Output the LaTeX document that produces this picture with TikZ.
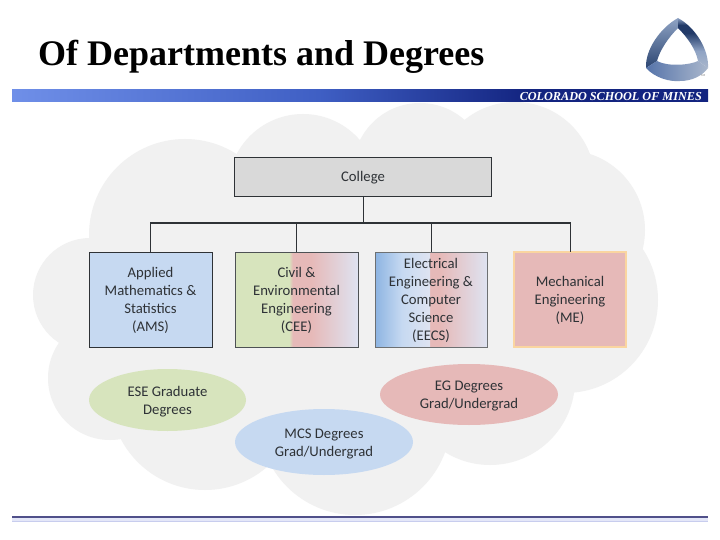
\documentclass[tikz,border=0pt]{standalone}
\usepackage{fontspec}
\setmainfont{Liberation Serif}
\newfontfamily\bodyfont{Carlito}
\definecolor{cloudc}{HTML}{F1F1F1}
\definecolor{bluef}{HTML}{C6D9F1}
\definecolor{greenf}{HTML}{D7E4BD}
\definecolor{pinkf}{HTML}{E6B9B8}
\definecolor{greyf}{HTML}{D9D9D9}
\definecolor{inkc}{HTML}{2E3236}
\definecolor{fadef}{HTML}{DEE3F1}
\definecolor{deepb}{HTML}{8DB4E2}
\definecolor{barA}{HTML}{6F8FE8}
\definecolor{barB}{HTML}{3F5FC4}
\definecolor{barC}{HTML}{132480}
\definecolor{logoA}{HTML}{8FA3C4}
\definecolor{logoB}{HTML}{2C4672}
\definecolor{logoC}{HTML}{223A68}
\definecolor{logoD}{HTML}{AAB7CC}
\definecolor{logoE}{HTML}{5674AA}
\definecolor{meedge}{HTML}{FAD5A0}
\definecolor{footA}{HTML}{E4E7F8}
\definecolor{footB}{HTML}{50508A}
\definecolor{footC}{HTML}{C8CDEE}
\pgfdeclarehorizontalshading{ceeshade}{100bp}{color(0bp)=(greenf); color(47bp)=(greenf); color(48.5bp)=(pinkf); color(56bp)=(pinkf); color(75bp)=(fadef); color(100bp)=(fadef)}
\pgfdeclarehorizontalshading{eecsshade}{100bp}{color(0bp)=(deepb); color(25bp)=(deepb); color(37bp)=(bluef); color(49.2bp)=(fadef); color(49.6bp)=(pinkf); color(54bp)=(pinkf); color(75bp)=(fadef); color(100bp)=(fadef)}
\pgfdeclarehorizontalshading{barshade}{100bp}{color(0bp)=(barA); color(25bp)=(barA); color(47bp)=(barB); color(62bp)=(barC); color(75bp)=(barC); color(100bp)=(barC)}
\pgfdeclareverticalshading{logoshade}{100bp}{color(0bp)=(logoD); color(25bp)=(logoD); color(42bp)=(logoA); color(60bp)=(logoC); color(68bp)=(logoC); color(75bp)=(logoA); color(100bp)=(logoA)}
\newcommand{\firstl}{\rule{0pt}{14pt}}
\newcommand{\lastl}{\rule[-4pt]{0pt}{4pt}}
\usetikzlibrary{shapes.geometric}
\tikzset{
  x=1pt,y=-1pt,
  cloudlobe/.style={fill=cloudc,draw=none},
  orgbox/.style={rectangle,draw=inkc,line width=0.8pt,inner sep=0pt,outer sep=0pt,align=center,font=\bodyfont\fontsize{14.7}{18}\selectfont,text=inkc},
  degree/.style={ellipse,draw=none,inner sep=0pt,outer sep=0pt,align=center,font=\bodyfont\fontsize{14.7}{18}\selectfont,text=inkc},
  wire/.style={draw=inkc,line width=1pt},
}
\begin{document}
\begin{tikzpicture}
\useasboundingbox (0,0) rectangle (720,540);
\fill[white] (0,0) rectangle (720,540);
% cloud
\foreach \cx/\cy/\rr in {185/235/96,303/189/75,420/170/67,515/182/80,565/230/80,565/300/93,490/380/85,355/419/96,205/395/95,110/378/62,90/295/57,350/300/150,250/300/120,450/280/130}
  \fill[cloudlobe] (\cx,\cy) circle[radius=\rr];
% header
\node[anchor=base west,inner sep=0pt,font=\fontsize{36}{40}\selectfont\bfseries] (title) at (38,66) {Of Departments and Degrees};
\shade[shading=barshade] (12,90) rectangle (708,102);
\node[anchor=base east,inner sep=0pt,text=white,font=\fontsize{12.2}{14}\selectfont\bfseries\itshape] (mines) at (702,100.5) {COLORADO SCHOOL OF MINES};
% logo
\shade[top color=logoA,bottom color=logoB]
  (678,18) .. controls (660,28) and (645,50) .. (646,68) -- (657,61) .. controls (660,50) and (668,38) .. (678,28) -- cycle;
\shade[shading=logoshade]
  (678,18) .. controls (696,28) and (709,50) .. (708,68) -- (698,61) .. controls (696,50) and (688,38) .. (678,28) -- cycle;
\shade[left color=logoE,right color=logoD]
  (646,68) .. controls (655,78) and (670,82) .. (680,81) .. controls (692,81) and (702,76) .. (708,68) -- (698,61) .. controls (690,65) and (668,67) .. (657,61) -- cycle;
\node[inner sep=0pt,text=gray,font=\fontsize{3}{3}\selectfont] (logomark) at (703,76) {SM};
% boxes
\node[orgbox,fill=greyf,minimum width=257pt,minimum height=39pt] (college) at (363,176.5) {\firstl College\lastl};
\node[orgbox,fill=bluef,minimum width=123pt,minimum height=95pt] (ams) at (150.5,299.5) {\firstl Applied\\Mathematics \&\\Statistics\\(AMS)\lastl};
\node[orgbox,shading=ceeshade,draw=inkc!85!white,minimum width=123pt,minimum height=95pt] (cee) at (296.5,299.5) {\firstl Civil \&\\Environmental\\Engineering\\(CEE)\lastl};
\node[orgbox,shading=eecsshade,draw=inkc!70!white,minimum width=112pt,minimum height=95pt] (eecs) at (431,299.5) {\firstl Electrical\\Engineering \&\\Computer\\Science\\(EECS)\lastl};
\node[orgbox,fill=pinkf,draw=meedge,line width=1.6pt,minimum width=112pt,minimum height=95pt] (me) at (570,299.5) {\firstl Mechanical\\Engineering\\(ME)\lastl};
% connectors
\coordinate (trunk) at (college.south |- 0,223);
\draw[wire] (college.south) -- (trunk);
\draw[wire,line width=1.2pt,line cap=rect] (ams.north |- trunk) -- (me.north |- trunk);
\draw[wire] (ams.north |- trunk) -- (ams.north);
\draw[wire] (me.north |- trunk) -- (me.north);
\draw[wire] (cee.north |- trunk) -- (cee.north);
\draw[wire] (eecs.north |- trunk) -- (eecs.north);
% ellipses
\node[degree,fill=greenf,minimum width=157pt,minimum height=62pt] (ese) at (167.5,400) {\firstl ESE Graduate\\Degrees\lastl};
\node[degree,fill=bluef,minimum width=178pt,minimum height=66pt] (mcs) at (324,442) {\firstl MCS Degrees\\Grad/Undergrad\lastl};
\node[degree,fill=pinkf,minimum width=178pt,minimum height=61pt] (eg) at (469,394.5) {\firstl EG Degrees\\Grad/Undergrad\lastl};
% footer
\fill[footA] (12,517) rectangle (708,522);
\fill[footB] (12,516) rectangle (708,518);
\fill[footC] (12,521) rectangle (708,522);
\end{tikzpicture}
\end{document}
